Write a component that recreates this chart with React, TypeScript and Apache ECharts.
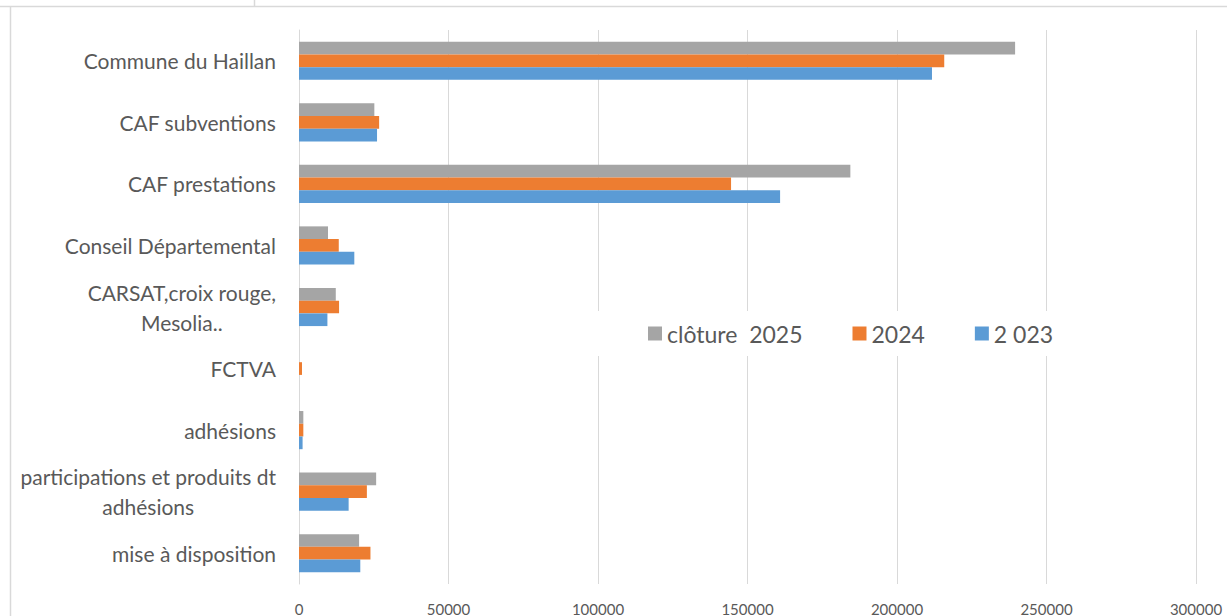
import React, { useEffect, useRef } from "react";
import * as echarts from "echarts";

const categories = [
  "Commune du Haillan",
  "CAF subventions",
  "CAF prestations",
  "Conseil Départemental",
  "CARSAT,croix rouge,\nMesolia..",
  "FCTVA",
  "adhésions",
  "participations et produits dt\nadhésions",
  "mise à disposition",
];
const seriesNames = ["clôture  2025", "2024", "2 023"];
const values2025 = [239500, 25200, 184400, 9700, 12300, 0, 1450, 25800, 20100];
const values2024 = [215800, 26800, 144500, 13300, 13400, 1000, 1450, 22700, 23900];
const values2023 = [211700, 26100, 160900, 18500, 9500, 0, 1200, 16600, 20500];
const xMin = 0;
const xMax = 300000;
const xInterval = 50000;
const colors = ["#A5A5A5", "#ED7D31", "#5B9BD5"];

const FONT = "Lato, 'Open Sans', sans-serif";
const TXT = "#595959";
const GRID = "#d9d9d9";

export default function App() {
  const ref = useRef<HTMLDivElement>(null);
  useEffect(() => {
    document.body.style.margin = "0";
    const chart = echarts.init(ref.current!, undefined, { renderer: "svg" });
    const allValues = [values2025, values2024, values2023];
    chart.setOption({
      animation: false,
      backgroundColor: "#ffffff",
      grid: { left: 299, right: 31, top: 30, bottom: 32, containLabel: false },
      legend: {
        data: seriesNames,
        left: 592,
        top: 311,
        padding: [11, 20, 11, 56],
        backgroundColor: "#ffffff",
        itemGap: 50,
        itemWidth: 14,
        itemHeight: 14,
        icon: "rect",
        textStyle: { color: TXT, fontSize: 23, fontFamily: FONT },
      },
      xAxis: {
        type: "value",
        min: xMin,
        max: xMax,
        interval: xInterval,
        axisLine: { show: false },
        axisTick: { show: false },
        splitLine: { show: true, lineStyle: { color: GRID, width: 1 } },
        axisLabel: {
          color: TXT,
          fontSize: 15,
          fontFamily: FONT,
          margin: 17,
          formatter: (v: number) => String(v),
        },
      },
      yAxis: {
        type: "category",
        inverse: true,
        data: categories,
        axisLine: { show: true, lineStyle: { color: GRID, width: 1 } },
        axisTick: { show: false },
        axisLabel: {
          margin: 23,
          color: TXT,
          fontSize: 21,
          fontFamily: FONT,
          formatter: (v: string) =>
            v
              .split("\n")
              .map((l) => `{c|${l}}`)
              .join("\n"),
          rich: {
            c: {
              align: "center",
              color: TXT,
              fontSize: 21,
              fontFamily: FONT,
              lineHeight: 30,
            },
          },
        },
      },
      series: seriesNames.map((name, i) => ({
        name,
        type: "bar",
        data: allValues[i],
        barGap: "0%",
        barCategoryGap: "38%",
        itemStyle: { color: colors[i] },
      })),
      graphic: [
        {
          type: "line",
          shape: { x1: 0, y1: 6.5, x2: 1227, y2: 6.5 },
          style: { stroke: GRID, lineWidth: 1.5 },
        },
        {
          type: "line",
          shape: { x1: 254.5, y1: 0, x2: 254.5, y2: 7 },
          style: { stroke: GRID, lineWidth: 1.5 },
        },
        {
          type: "line",
          shape: { x1: 10.5, y1: 7, x2: 10.5, y2: 616 },
          style: { stroke: GRID, lineWidth: 1.5 },
        },
      ],
    });
    return () => chart.dispose();
  }, []);
  return <div ref={ref} style={{ width: 1227, height: 616 }} />;
}
